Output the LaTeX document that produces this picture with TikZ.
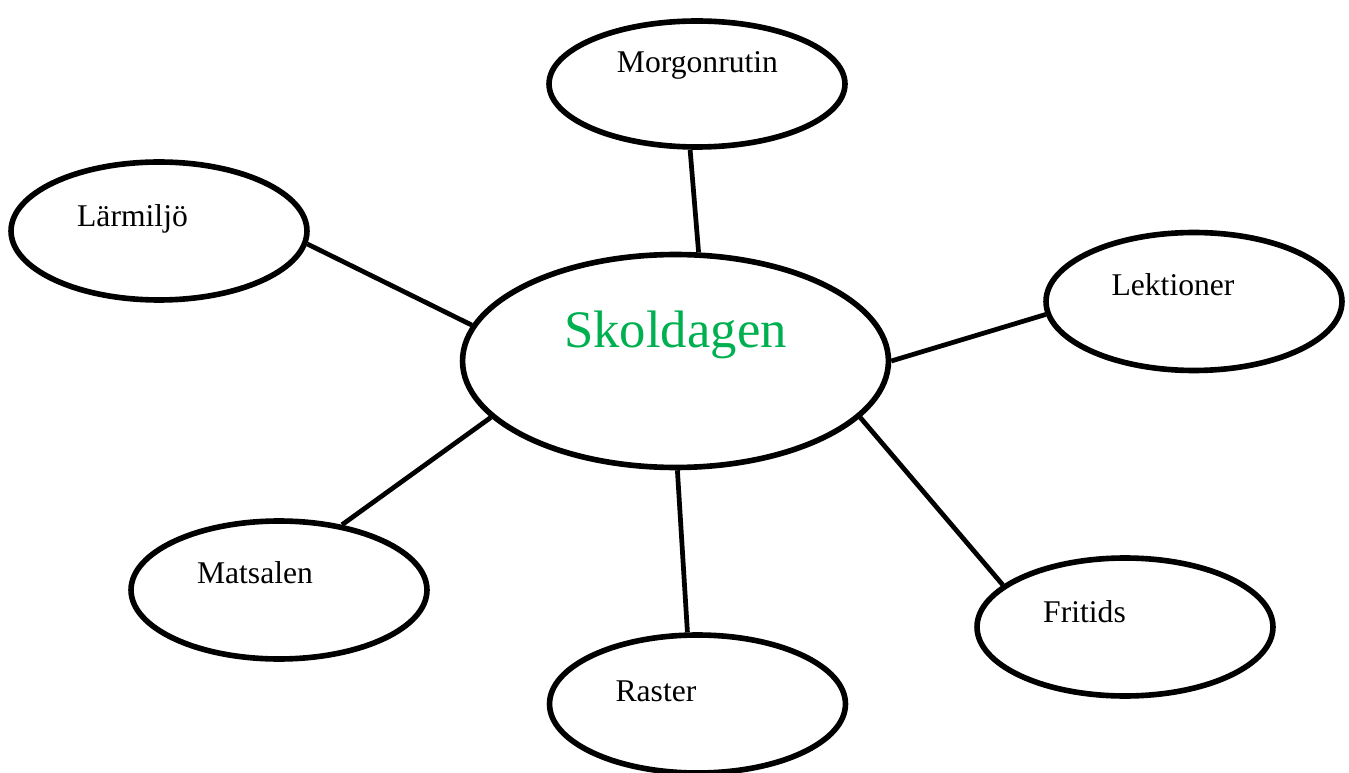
\documentclass[tikz,border=0pt]{standalone}
\usepackage{fontspec}
\setmainfont{Liberation Serif}
\usepackage{xcolor}
\usepackage{tikz}
\usetikzlibrary{shapes.geometric}
\definecolor{SDGreen}{HTML}{00B050}
\definecolor{SDBlack}{HTML}{000000}
\tikzset{
  hubell/.style={draw=SDBlack,ellipse,line width=3.2pt,minimum width=8.52cm,minimum height=4.26cm,inner sep=0pt},
  topicell/.style={draw=SDBlack,ellipse,line width=3.2pt,minimum width=5.92cm,minimum height=2.76cm,inner sep=0pt},
  topictxt/.style={font=\fontsize{18}{21}\selectfont,text=SDBlack,anchor=base,inner sep=0pt},
  hubtxt/.style={font=\fontsize{30}{34}\selectfont,text=SDGreen,anchor=base,inner sep=0pt},
  spoke/.style={line width=2.7pt,color=SDBlack}
}

\begin{document}
\begin{tikzpicture}[x=0.02cm,y=-0.02cm]
    \useasboundingbox (0,0) rectangle (1349,773);
    % Hub
    \node[hubell] (skol) at (675.5,361) {};
    \node[hubtxt] (skol-t) at (675.5,348) {Skoldagen};
    % Topic ellipses
    \node[topicell,minimum height=2.52cm] (morgon) at (697,84) {};
    \node[topicell] (larm) at (159,231) {};
    \node[topicell] (lekt) at (1194,301.5) {};
    \node[topicell] (mats) at (279,590) {};
    \node[topicell] (rast) at (697.5,704) {};
    \node[topicell] (frit) at (1125,627) {};
    % Topic texts
    \node[topictxt] (morgon-t) at (697.5,73) {Morgonrutin};
    \node[topictxt] (larm-t) at (132.5,227) {Lärmiljö};
    \node[topictxt] (lekt-t) at (1173,296) {Lektioner};
    \node[topictxt] (mats-t) at (255,583) {Matsalen};
    \node[topictxt] (rast-t) at (656,701) {Raster};
    \node[topictxt] (frit-t) at (1084.5,622) {Fritids};
    % Spokes
    \draw[spoke] (skol.78.7) -- (morgon.264);
    \draw[spoke] (skol.170.3) -- (larm.-5.5);
    \draw[spoke] (skol.-0.3) -- (lekt.185.3);
    \draw[spoke] (skol.197.5) -- (mats.46.8);
    \draw[spoke] (skol.271) -- (rast.98);
    \draw[spoke] (skol.343.1) -- (frit.161.6);
\end{tikzpicture}
\end{document}
